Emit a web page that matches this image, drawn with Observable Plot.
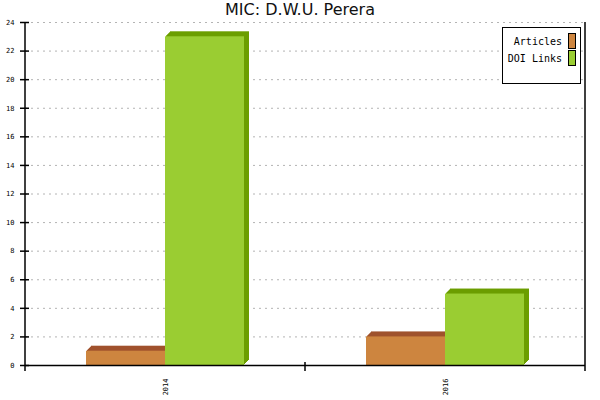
<!DOCTYPE html>
<html>
<head>
<meta charset="utf-8">
<script src="https://cdn.jsdelivr.net/npm/d3@7"></script>
<script src="https://cdn.jsdelivr.net/npm/@observablehq/plot@0.6"></script>
<style>
  html, body { margin: 0; padding: 0; background: #fff; }
  #wrap { position: relative; width: 600px; height: 400px; }
  #title { position: absolute; left: 0; top: 0; width: 600px; text-align: center;
    font: 16px "DejaVu Sans", sans-serif; color: #111; line-height: 20px; }
  #legend { position: absolute; left: 502px; top: 27px; width: 77px; height: 55px;
    border: 1px solid #000; background: #fff; font: 10px "DejaVu Sans Mono", monospace; }
  .row { position: absolute; right: 4px; height: 16px; display: flex; align-items: center; }
  .row span.sw { display: inline-block; width: 6px; height: 14px; border: 1px solid #000; margin-left: 6px; }
</style>
</head>
<body>
<div id="wrap">
  <div id="title"></div>
  <div id="legend"></div>
</div>
<script>
const title = "MIC: D.W.U. Perera";
const years = ["2014", "2016"];
const series = ["Articles", "DOI Links"];
const articles = [1, 2];
const doiLinks = [23, 5];
const yTicks = [0, 2, 4, 6, 8, 10, 12, 14, 16, 18, 20, 22, 24];
const faceColors = ["#cd853f", "#9acd32"];
const depthColors = ["#a0522d", "#6b9e00"];
const depthSteps = [5, 4, 3, 2, 1];

const data = years.flatMap((yr, i) => [
  {year: yr, series: series[0], value: articles[i]},
  {year: yr, series: series[1], value: doiLinks[i]}
]);

const depthMarks = depthSteps.map(k =>
  Plot.barY(data, {fx: "year", x: "series", y: "value",
    fill: d => depthColors[series.indexOf(d.series)], dx: k, dy: -k})
);

const chart = Plot.plot({
  width: 600,
  height: 400,
  marginLeft: 25,
  marginRight: 15,
  marginTop: 22,
  marginBottom: 35,
  style: {fontFamily: "DejaVu Sans Mono, monospace", fontSize: "7px", color: "#000", background: "#fff"},
  fx: {domain: years, padding: 0, axis: null},
  x: {domain: series, paddingInner: 0, paddingOuter: 0.772, axis: null},
  y: {domain: [0, 24], axis: null},
  color: {domain: series, range: faceColors},
  marks: [
    Plot.gridY(yTicks, {stroke: "#b4b4b4", strokeOpacity: 1, strokeDasharray: "2,4"}),
    ...depthMarks,
    Plot.barY(data, {fx: "year", x: "series", y: "value", fill: "series"}),
    Plot.ruleY([0], {stroke: "#000", strokeWidth: 1.5}),
    Plot.axisY(yTicks, {anchor: "left", tickSize: 9, dx: 4, tickPadding: 6, stroke: "#000", fill: "#000", strokeWidth: 1.5, label: null}),
    Plot.axisFx({anchor: "bottom", tickSize: 0, tickPadding: 13, tickRotate: -90, fill: "#000", label: null})
  ]
});

// frame lines and band-edge ticks through Plot's scales
const fx = chart.scale("fx");
const y = chart.scale("y");
const svg = d3.select(chart);
const bw = fx.bandwidth;
const edges = years.map(v => fx.apply(v)).concat([fx.apply(years[years.length - 1]) + bw]);
const y0 = y.apply(0), yTop = y.apply(24);
const g = svg.append("g").attr("stroke", "#000").attr("stroke-width", 1.5);
g.append("line").attr("x1", edges[0]).attr("x2", edges[0]).attr("y1", yTop).attr("y2", y0 + 6);
g.append("line").attr("x1", edges[edges.length - 1]).attr("x2", edges[edges.length - 1]).attr("y1", yTop).attr("y2", y0 + 6);
edges.slice(1, -1).forEach(e => g.append("line").attr("x1", e).attr("x2", e).attr("y1", y0 - 3).attr("y2", y0 + 6));

const wrap = document.getElementById("wrap");
wrap.appendChild(chart);
document.getElementById("title").textContent = title;
const legend = document.getElementById("legend");
series.forEach((s, i) => {
  const row = document.createElement("div");
  row.className = "row";
  row.style.top = (5 + i * 17) + "px";
  const t = document.createElement("span");
  t.textContent = s;
  const sw = document.createElement("span");
  sw.className = "sw";
  sw.style.background = faceColors[i];
  row.appendChild(t);
  row.appendChild(sw);
  legend.appendChild(row);
});
wrap.appendChild(legend);
</script>
</body>
</html>
